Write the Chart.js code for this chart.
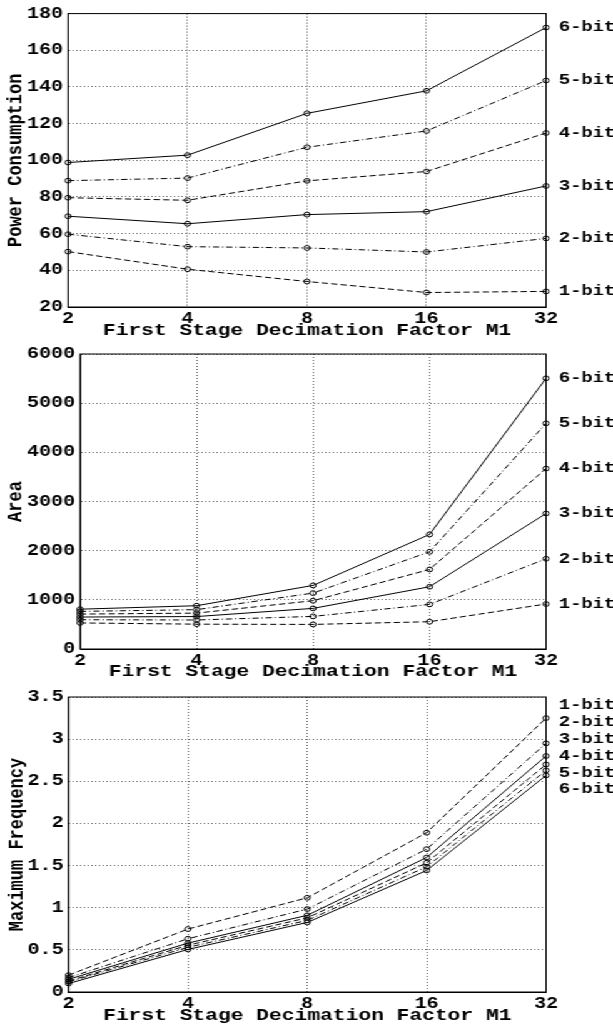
<!DOCTYPE html>
<html>
<head>
<meta charset="utf-8">
<script src="https://cdn.jsdelivr.net/npm/chart.js@4.4.0/dist/chart.umd.min.js"></script>
<style>
 body { margin: 0; background: #fff; overflow: hidden; }
 /* the original figure is stretched sideways, so draw narrow and widen it */
 #wrap { position: absolute; left: 0; top: 0; width: 490px; height: 1028px; transform: scaleX(1.251); transform-origin: 0 0; }
 canvas { position: absolute; left: 0; }
</style>
</head>
<body>
<div id="wrap">
 <canvas id="power" width="490" height="345" style="top:0px"></canvas>
 <canvas id="area" width="490" height="345" style="top:340px"></canvas>
 <canvas id="freq" width="490" height="345" style="top:683px"></canvas>
</div>
<script>
const m1 = ['2', '4', '8', '16', '32'];
const bits = ['1-bit', '2-bit', '3-bit', '4-bit', '5-bit', '6-bit'];

// power consumption
const power1 = [50.2, 40.6, 33.9, 27.9, 28.5];
const power2 = [59.7, 52.9, 52.2, 50.0, 57.4];
const power3 = [69.5, 65.4, 70.4, 72.0, 86.0];
const power4 = [79.6, 78.2, 88.8, 93.9, 114.9];
const power5 = [88.9, 90.3, 107.1, 116.0, 143.5];
const power6 = [98.8, 102.8, 125.6, 137.9, 172.4];
const powerTicks = [20, 40, 60, 80, 100, 120, 140, 160, 180];

// area
const area1 = [530, 505, 500, 555, 915];
const area2 = [595, 590, 663, 907, 1835];
const area3 = [650, 660, 826, 1266, 2756];
const area4 = [710, 730, 982, 1618, 3670];
const area5 = [765, 800, 1137, 1977, 4590];
const area6 = [810, 880, 1293, 2330, 5505];
const areaTicks = [0, 1000, 2000, 3000, 4000, 5000, 6000];

// maximum frequency
const freq1 = [0.20, 0.747, 1.118, 1.89, 3.25];
const freq2 = [0.17, 0.632, 0.984, 1.695, 2.95];
const freq3 = [0.15, 0.58, 0.91, 1.596, 2.80];
const freq4 = [0.13, 0.555, 0.88, 1.533, 2.70];
const freq5 = [0.12, 0.53, 0.85, 1.486, 2.63];
const freq6 = [0.10, 0.505, 0.825, 1.442, 2.57];
const freqTicks = [0, 0.5, 1, 1.5, 2, 2.5, 3, 3.5];
const freqLabelPos = [3.4, 3.2, 3.0, 2.8, 2.6, 2.4];

const dashes = [[5, 2.6], [5, 2.3, 1, 2.3], []]; // --  -.  -
const FONT = 'Liberation Mono';
const tickFont = { family: FONT, size: 16, weight: 'bold' };
const titleFont = { family: FONT, size: 17, weight: 'bold' };

function makeChart(id, series, ticks, yTitle, labelPos, box) {
  new Chart(document.getElementById(id), {
    type: 'line',
    data: {
      labels: m1,
      datasets: series.map((d, i) => ({
        label: bits[i],
        data: d,
        borderColor: '#000',
        borderWidth: 1,
        borderDash: dashes[i % 3],
        pointRadius: 2.4,
        pointBorderWidth: 1,
        pointBorderColor: '#000',
        pointBackgroundColor: 'rgba(0,0,0,0)',
        fill: false,
        tension: 0
      }))
    },
    options: {
      responsive: false,
      animation: false,
      layout: { padding: { top: box.top, right: 53.5, left: 0, bottom: 0 } },
      plugins: { legend: { display: false }, tooltip: { enabled: false } },
      scales: {
        x: {
          type: 'category',
          offset: false,
          grid: { color: 'rgba(0,0,0,0.6)', drawTicks: false, offset: false },
          border: { display: true, color: '#000', width: 1, dash: [1, 2] },
          ticks: { color: '#000', font: tickFont, padding: 2.4, maxRotation: 0, autoSkip: false },
          title: { display: true, text: 'First Stage Decimation Factor M1', color: '#000', font: titleFont,
                   padding: { top: 0, bottom: box.titlePad } },
          afterFit(s) { s.height = box.axisH; }
        },
        y: {
          min: ticks[0],
          max: ticks[ticks.length - 1],
          afterBuildTicks(s) { s.ticks = ticks.map(v => ({ value: v })); },
          grid: { color: 'rgba(0,0,0,0.6)', drawTicks: false },
          border: { display: true, color: '#000', width: 1, dash: [1, 2] },
          ticks: { color: '#000', font: tickFont, padding: 4, callback: v => String(v) },
          title: { display: true, text: yTitle, color: '#000', font: titleFont,
                   padding: { top: box.yTitlePad, bottom: 0 } },
          afterFit(s) { s.width = box.left; }
        }
      }
    },
    plugins: [{
      id: 'frameLabels',
      afterDraw(chart) {
        const { ctx, chartArea: a, scales: { y } } = chart;
        ctx.save();
        ctx.strokeStyle = '#000';
        ctx.lineWidth = 1;
        ctx.strokeRect(a.left, a.top, a.right - a.left, a.bottom - a.top);
        ctx.font = 'bold 15px "' + FONT + '"';
        ctx.fillStyle = '#000';
        ctx.textAlign = 'left';
        ctx.textBaseline = 'middle';
        labelPos.forEach((v, i) => ctx.fillText(bits[i], a.right + 10.3, y.getPixelForValue(v)));
        ctx.restore();
      }
    }]
  });
}

const powerSeries = [power1, power2, power3, power4, power5, power6];
const areaSeries = [area1, area2, area3, area4, area5, area6];
const freqSeries = [freq1, freq2, freq3, freq4, freq5, freq6];

makeChart('power', powerSeries, powerTicks, 'Power Consumption',
  powerSeries.map(s => s[s.length - 1]), { left: 54.4, top: 12, axisH: 38, titlePad: 3.8, yTitlePad: 2.6 });
makeChart('area', areaSeries, areaTicks, 'Area',
  areaSeries.map(s => s[s.length - 1]), { left: 64, top: 14, axisH: 36, titlePad: 2.8, yTitlePad: 3 });
makeChart('freq', freqSeries, freqTicks, 'Maximum Frequency',
  freqLabelPos, { left: 54.8, top: 14, axisH: 36, titlePad: 1.8, yTitlePad: 3.1 });
</script>
</body>
</html>
